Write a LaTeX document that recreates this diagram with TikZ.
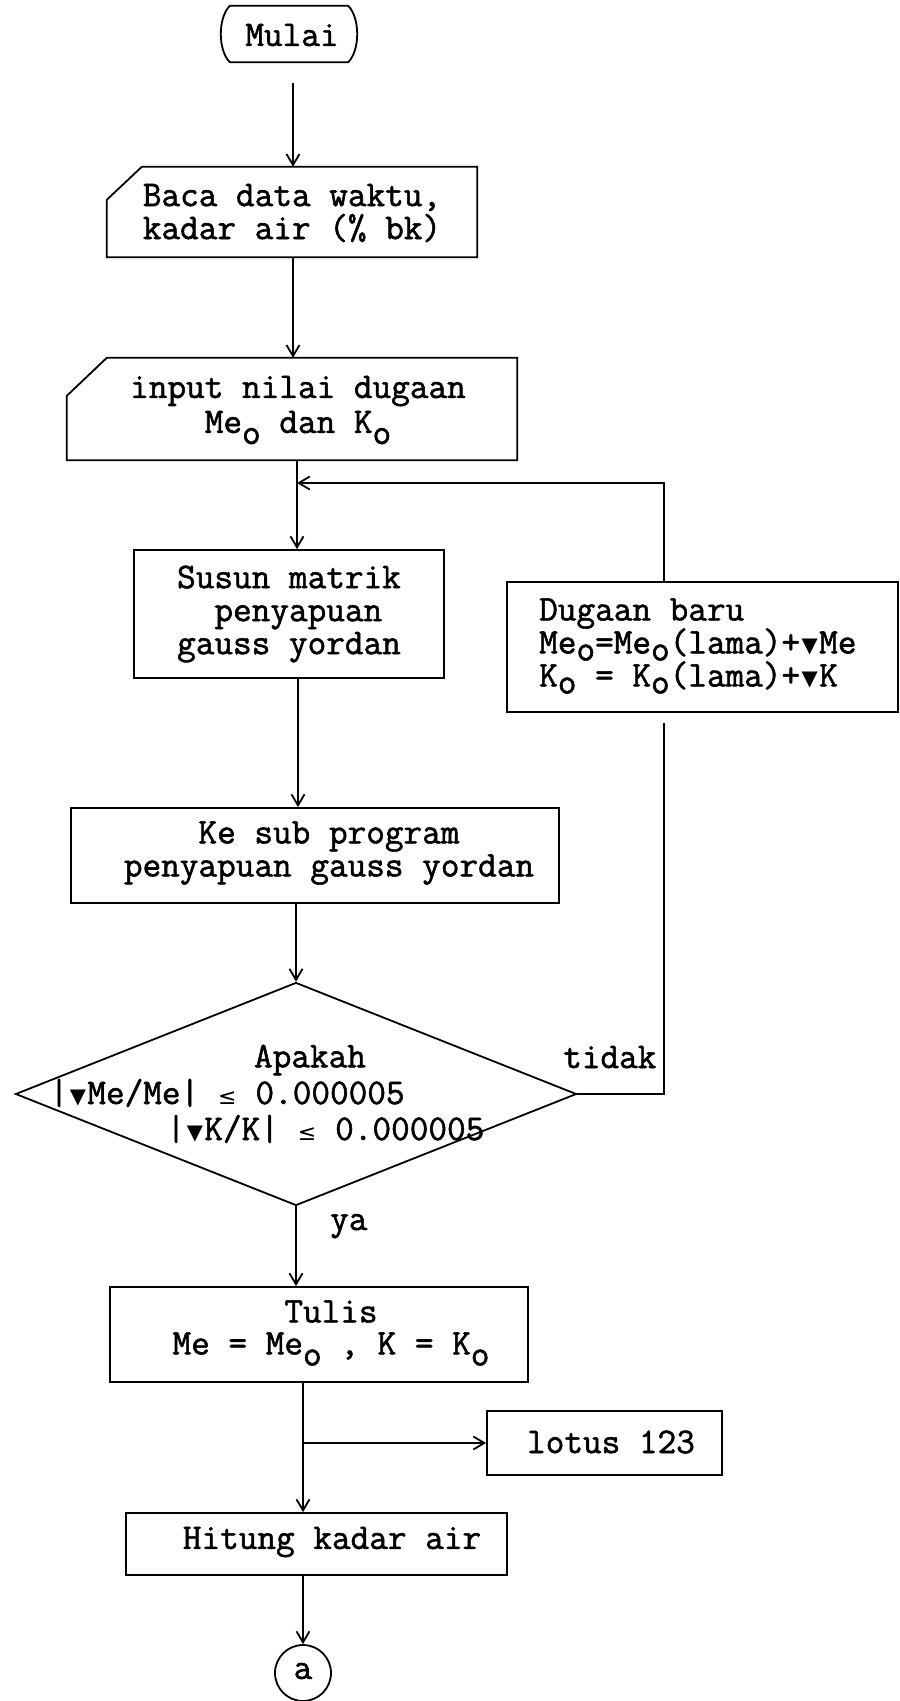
\documentclass[tikz,border=0pt]{standalone}
\usepackage{fontspec}
\usetikzlibrary{arrows.meta,shapes.geometric}
\newfontfamily\tw{Latin Modern Mono}[FakeBold=1.5]
\newfontfamily\symfont{DejaVu Sans}
% lowered "o" index, one typewriter cell wide
\newcommand\sbo{\raisebox{-11pt}{o}}
\newcommand\sbs{\raisebox{-7pt}{o}}
% small delta triangle and less-or-equal sign, one cell wide each
\newcommand\dtri{\makebox[0.525em]{\fontsize{21}{21}\selectfont\symfont\raisebox{1pt}{▼}}}
\newcommand\lesym{\makebox[0.525em]{\fontsize{22}{22}\selectfont\symfont ≤}}
\begin{document}
\lineskiplimit=-100pt
\begin{tikzpicture}[x=1pt,y=-1pt,
  lw/.style={line width=1.8pt},
  frame/.style={rectangle, inner sep=0pt},
  box/.style={draw, lw, rectangle, inner sep=0pt},
  txt/.style={inner sep=0pt, align=center,
    font=\tw\fontsize{36.2}{33}\selectfont},
  conn/.style={lw, -{Straight Barb[length=11pt,width=13pt]}}]
\useasboundingbox (0,0) rectangle (900,1701);

% start terminal
\node[frame, minimum width=138pt, minimum height=56pt] (start) at (289,34) {};
\draw[lw] ([xshift=10pt]start.north west) -- ([xshift=-10pt]start.north east)
  .. controls ([xshift=2pt,yshift=-12pt]start.north east) and ([xshift=2pt,yshift=12pt]start.south east) .. ([xshift=-10pt]start.south east)
  -- ([xshift=10pt]start.south west)
  .. controls ([xshift=-2pt,yshift=12pt]start.south west) and ([xshift=-2pt,yshift=-12pt]start.north west) .. cycle;
\node[txt] (start-t) at (292,35) {Mulai};

% data input (card shape)
\node[frame, minimum width=370pt, minimum height=90pt] (baca) at (292,212) {};
\draw[lw] ([xshift=35pt]baca.north west) -- (baca.north east) -- (baca.south east)
  -- (baca.south west) -- ([yshift=-33pt]baca.north west) -- cycle;
\node[txt] (baca-t) at (292,213) {Baca data waktu,\\kadar air (\% bk)};

% initial guess input (card shape)
\node[frame, minimum width=450pt, minimum height=102pt] (input) at (292,409) {};
\draw[lw] ([xshift=40pt]input.north west) -- (input.north east) -- (input.south east)
  -- (input.south west) -- ([yshift=-38pt]input.north west) -- cycle;
\node[txt, font=\tw\fontsize{36.2}{35}\selectfont] (input-t) at (298,410) {input nilai dugaan\\Me\sbo{} dan K\sbo};

% process boxes
\node[box, minimum width=310pt, minimum height=128pt] (susun) at (289,614) {};
\node[txt] (susun-t) at (289,614) {Susun matrik\\\hphantom{x}penyapuan\\gauss yordan};

\node[box, minimum width=391pt, minimum height=130pt] (dugaan) at (702.5,647) {};
\node[txt, align=left, anchor=west] (dugaan-t) at (539,646)
  {Dugaan baru\\Me\sbs=Me\sbs(lama)+\dtri Me\\K\sbs{} = K\sbs(lama)+\dtri K};

\node[box, minimum width=488pt, minimum height=95pt] (ke) at (315,855.5) {};
\node[txt] (ke-t) at (329,853) {Ke sub program\\penyapuan gauss yordan};

% decision
\node[diamond, draw, lw, inner sep=0pt, minimum width=561pt, minimum height=223pt] (dia) at (296,1094) {};
\node[txt] (ask) at (310,1060) {Apakah};
\node[txt, anchor=base west] (ask-me) at (49.5,1104) {|\dtri Me/Me| \lesym{} 0.000005};
\node[txt, anchor=base west] (ask-k) at (166.5,1140) {|\dtri K/K| \lesym{} 0.000005};
\node[txt, anchor=base west] (no) at (563,1068) {tidak};
\node[txt, anchor=base west] (yes) at (330,1230) {ya};

% output and final steps
\node[box, minimum width=418pt, minimum height=95pt] (tulis) at (319,1334.5) {};
\node[txt, font=\tw\fontsize{36.2}{32}\selectfont] (tulis-t) at (331,1333) {Tulis\\Me = Me\sbo{} , K = K\sbo};

\node[box, minimum width=235pt, minimum height=64pt] (lotus) at (604.5,1443) {};
\node[txt] (lotus-t) at (611,1442) {lotus 123};

\node[box, minimum width=381pt, minimum height=62pt] (hitung) at (316.5,1544) {};
\node[txt] (hitung-t) at (332,1542) {Hitung kadar air};

\node[circle, draw, lw, inner sep=0pt, minimum size=56pt] (circ) at (303,1673) {};
\node[txt] (circ-t) at (303,1671) {a};

% connector columns
\coordinate (xa) at (293,0);
\coordinate (xb) at (297,0);
\coordinate (xc) at (298,0);
\coordinate (xd) at (303,0);
\coordinate (xr) at (664,0);
\coordinate (loopy) at (0,483);

\draw[conn, shorten <=21pt] (start.south -| xa) -- (baca.north -| xa);
\draw[conn] (baca.south -| xa) -- (input.north -| xa);
\draw[conn] (input.south -| xb) -- (susun.north -| xb);
\draw[conn] (susun.south -| xc) -- (ke.north -| xc);
\draw[conn] (ke.south -| dia.north) -- (dia.north);
\draw[conn] (dia.south) -- (tulis.north -| dia.south);
\draw[conn] (tulis.south -| xd) -- (hitung.north -| xd);
\draw[conn] (lotus.west -| xd) -- (lotus.west);
\draw[conn] (hitung.south -| xd) -- (circ.north);

% iteration loop
\draw[lw, shorten >=10pt] (dia.east) -- (dia.east -| xr) -- (dugaan.south -| xr);
\draw[conn] (dugaan.north -| xr) -- (loopy -| xr) -- (loopy -| xb);
\end{tikzpicture}
\end{document}
